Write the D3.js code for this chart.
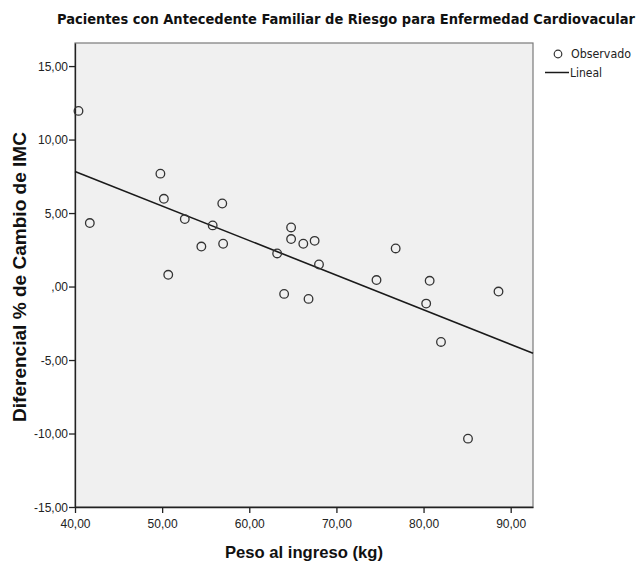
<html>
<head>
<meta charset="utf-8">
<title>Scatter</title>
<script src="https://d3js.org/d3.v7.min.js"></script>
<style>
  body { margin: 0; background: #fff; }
  text { font-family: Arial, "Liberation Sans", sans-serif; }
</style>
</head>
<body>
<script>
    var width = 643,
        height = 564,
        plotLeft = 75,
        plotRight = 533,
        plotTop = 43,
        plotBottom = 507,
        narrow = "'Liberation Sans Narrow', 'DejaVu Sans Condensed', Arial, sans-serif";

    // peso al ingreso (kg)
    var peso = [40.4, 41.7, 49.8, 50.2, 50.7, 52.6, 54.5, 55.8, 56.9, 57.0,
                63.2, 64.0, 64.8, 64.8, 66.2, 66.8, 67.5, 68.0, 74.6, 76.8,
                80.3, 80.7, 82.0, 85.1, 88.6];
    // diferencial % de cambio de IMC
    var cambio = [11.95, 4.32, 7.68, 5.97, 0.80, 4.59, 2.72, 4.16, 5.65, 2.91,
                  2.25, -0.50, 4.02, 3.23, 2.91, -0.84, 3.11, 1.50, 0.44, 2.59,
                  -1.16, 0.39, -3.77, -10.35, -0.34];
    var xTicks = [40, 50, 60, 70, 80, 90];
    var yTicks = [-15, -10, -5, 0, 5, 10, 15];
    // recta de ajuste lineal
    var fitIntercept = 17.25,
        fitSlope = -0.2354;

    var fmt = function (v) {
        var s = v.toFixed(2).replace(".", ",");
        return s.replace(/^0,/, ",").replace(/^-0,/, "-,");
    };

    var svg = d3.select("body").append("svg")
        .attr("width", width)
        .attr("height", height);

    var x = d3.scaleLinear().domain([40, 92.56]).range([plotLeft, plotRight]);
    var y = d3.scaleLinear().domain([-15, 16.57]).range([plotBottom, plotTop]);

    // plot background
    svg.append("rect")
        .attr("x", plotLeft)
        .attr("y", plotTop)
        .attr("width", plotRight - plotLeft)
        .attr("height", plotBottom - plotTop)
        .attr("fill", "#f0f0f0")
        .attr("stroke", "#7a7a7a")
        .attr("stroke-width", 1.2);

    // axes
    var xAxis = svg.append("g")
        .attr("transform", "translate(0," + plotBottom + ")")
        .call(d3.axisBottom(x).tickValues(xTicks).tickFormat(fmt)
            .tickSizeInner(6).tickSizeOuter(0).tickPadding(4));
    var yAxis = svg.append("g")
        .attr("transform", "translate(" + plotLeft + ",0)")
        .call(d3.axisLeft(y).tickValues(yTicks).tickFormat(fmt)
            .tickSizeInner(6).tickSizeOuter(0).tickPadding(1));

    [xAxis, yAxis].forEach(function (g) {
        g.select(".domain").attr("stroke", "#222").attr("stroke-width", 1.3);
        g.selectAll(".tick line").attr("stroke", "#222").attr("stroke-width", 1.3);
        g.selectAll(".tick text")
            .attr("fill", "#222")
            .style("font-size", "12px")
            .style("font-family", "Arial, 'Liberation Sans', sans-serif");
    });
    xAxis.selectAll(".tick text").attr("dy", "0.95em");
    yAxis.selectAll(".tick text").attr("dy", "0.35em");

    // fit line
    var xd = x.domain();
    svg.append("line")
        .attr("x1", x(xd[0]))
        .attr("y1", y(fitIntercept + fitSlope * xd[0]))
        .attr("x2", x(xd[1]))
        .attr("y2", y(fitIntercept + fitSlope * xd[1]))
        .attr("stroke", "#1a1a1a")
        .attr("stroke-width", 1.6);

    // observed points
    svg.selectAll(".pt").data(peso)
        .enter().append("circle")
        .attr("class", "pt")
        .attr("cx", function (d) { return x(d); })
        .attr("cy", function (d, i) { return y(cambio[i]); })
        .attr("r", 4.3)
        .attr("fill", "none")
        .attr("stroke", "#333")
        .attr("stroke-width", 1.3);

    // title
    svg.append("text")
        .attr("x", 57)
        .attr("y", 24)
        .attr("textLength", 578)
        .attr("lengthAdjust", "spacingAndGlyphs")
        .style("font-size", "14px")
        .style("font-weight", "bold")
        .style("font-family", narrow)
        .attr("fill", "#111")
        .text("Pacientes con Antecedente Familiar de Riesgo para Enfermedad Cardiovacular");

    // axis titles
    svg.append("text")
        .attr("x", 225)
        .attr("y", 558)
        .attr("textLength", 158)
        .attr("lengthAdjust", "spacingAndGlyphs")
        .style("font-size", "16.5px")
        .style("font-weight", "bold")
        .attr("fill", "#111")
        .text("Peso al ingreso (kg)");

    svg.append("text")
        .attr("transform", "translate(26,422) rotate(-90)")
        .attr("textLength", 290)
        .attr("lengthAdjust", "spacingAndGlyphs")
        .style("font-size", "17.5px")
        .style("font-weight", "bold")
        .attr("fill", "#111")
        .text("Diferencial % de Cambio de IMC");

    // legend
    var legend = svg.append("g");
    legend.append("circle")
        .attr("cx", 558).attr("cy", 54).attr("r", 3.8)
        .attr("fill", "none").attr("stroke", "#333").attr("stroke-width", 1.2);
    legend.append("text")
        .attr("x", 571).attr("y", 58)
        .attr("textLength", 60)
        .attr("lengthAdjust", "spacingAndGlyphs")
        .style("font-size", "12px").style("font-family", narrow).attr("fill", "#222")
        .text("Observado");
    legend.append("line")
        .attr("x1", 545).attr("x2", 569).attr("y1", 72.5).attr("y2", 72.5)
        .attr("stroke", "#1a1a1a").attr("stroke-width", 1.5);
    legend.append("text")
        .attr("x", 570).attr("y", 76.5)
        .style("font-size", "12px").style("font-family", narrow).attr("fill", "#222")
        .text("Lineal");
</script>
</body>
</html>
